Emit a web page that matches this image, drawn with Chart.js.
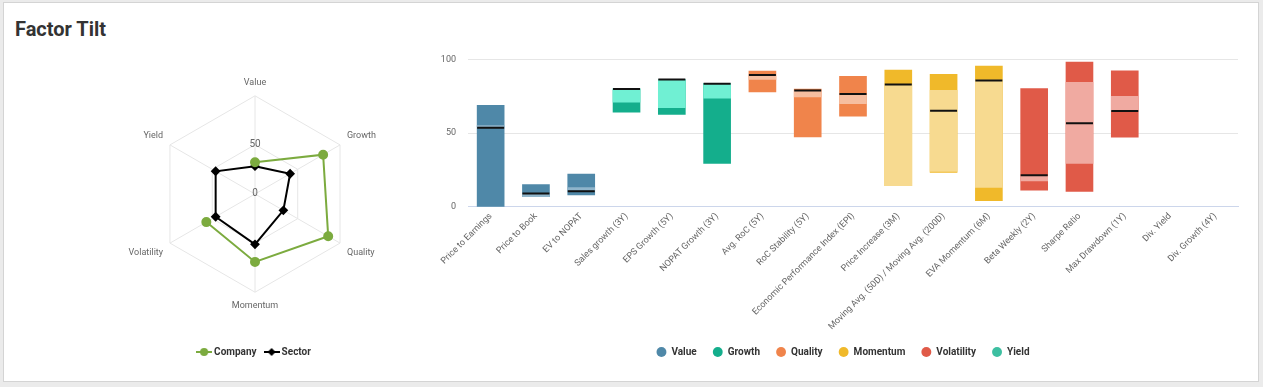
<!DOCTYPE html>
<html>
<head>
<meta charset="utf-8">
<script src="https://cdn.jsdelivr.net/npm/chart.js"></script>
<style>
  body { margin: 0; background: #ebebeb; font-family: Roboto, sans-serif; }
  .card { position: absolute; left: 3px; top: 2px; width: 1254px; height: 378px; background: #fff; border: 1px solid #d4d4d4; }
  .title { position: absolute; left: 15px; top: 17px; font: bold 20px Roboto, sans-serif; color: #333; }
  #radarBox { position: absolute; left: 10px; top: 78px; width: 490px; height: 289px; }
  #barBox { position: absolute; left: 420px; top: 51px; width: 830px; height: 321px; }
</style>
</head>
<body>
<div class="card"></div>
<div class="title">Factor Tilt</div>
<div id="radarBox"><canvas id="radarChart"></canvas></div>
<div id="barBox"><canvas id="tiltChart"></canvas></div>
<script>
    // radar: factor scores
    const radarAxes = ['Value', 'Growth', 'Quality', 'Momentum', 'Volatility', 'Yield'];
    const companyScores = [32, 80, 86, 69, 57, null];
    const sectorScores = [28, 41, 33, 51, 46, 46];
    const radarTicks = [0, 50, 100];

    // bars: one per metric
    const metricNames = ['Price to Earnings', 'Price to Book', 'EV to NOPAT', 'Sales growth (3Y)', 'EPS Growth (5Y)',
        'NOPAT Growth (3Y)', 'Avg. RoC (5Y)', 'RoC Stability (5Y)', 'Economic Performance Index (EPI)',
        'Price Increase (3M)', 'Moving Avg. (50D) / Moving Avg. (200D)', 'EVA Momentum (6M)', 'Beta Weekly (2Y)',
        'Sharpe Ratio', 'Max Drawdown (1Y)', 'Div. Yield', 'Div. Growth (4Y)'];
    const metricFactor = ['Value', 'Value', 'Value', 'Growth', 'Growth', 'Growth', 'Quality', 'Quality', 'Quality',
        'Momentum', 'Momentum', 'Momentum', 'Volatility', 'Volatility', 'Volatility', 'Yield', 'Yield'];
    const rangeLow  = [0, 7, 8.2, 64.3, 62.7, 29.5, 78, 47.5, 61.6, 14.5, 23.4, 4.3, 11.4, 10.5, 47.3, null, null];
    const rangeHigh = [68.8, 15.2, 22.3, 80, 86.3, 83.6, 92, 79.8, 88.6, 92.7, 89.8, 95.4, 80.2, 98.2, 92.2, null, null];
    const bandLow   = [54.2, 7, 11.4, 71, 67.3, 73.8, 86.5, 74.5, 70, 14.5, 24.1, 13.2, 17.7, 29.5, 65, null, null];
    const bandHigh  = [55.2, 8.5, 13.2, 80, 86.3, 83.6, 88.8, 79, 75.7, 83, 79.1, 85.9, 20.7, 84.5, 75, null, null];
    const sectorLevel = [53.7, 9.1, 10.7, 80, 86.3, 83.5, 89.4, 79, 76.6, 83, 65.2, 85.7, 21.4, 56.8, 65, null, null];

    const factors = ['Value', 'Growth', 'Quality', 'Momentum', 'Volatility', 'Yield'];
    const factorDark = ['#4f88a8', '#14ae8c', '#f0844b', '#f0b92a', '#e05a48', '#3dbfa1'];
    const factorLight = ['#8fb5cb', '#70f0d3', '#f6bea0', '#f7da90', '#f0aaa1', '#8fe3cf'];

    Chart.defaults.font.family = 'Roboto';
    Chart.defaults.color = '#666';

    function legendMarker(color, shape) {
        const c = document.createElement('canvas');
        c.width = 16; c.height = 10;
        const g = c.getContext('2d');
        g.strokeStyle = color; g.lineWidth = 2;
        g.beginPath(); g.moveTo(0, 5); g.lineTo(16, 5); g.stroke();
        g.fillStyle = color;
        g.beginPath();
        if (shape === 'circle') g.arc(8, 5, 4, 0, Math.PI * 2);
        else { g.moveTo(8, 1); g.lineTo(12, 5); g.lineTo(8, 9); g.lineTo(4, 5); g.closePath(); }
        g.fill();
        return c;
    }
    const radarMarkers = [legendMarker('#7cab3f', 'circle'), legendMarker('#000', 'diamond')];

    new Chart(document.getElementById('radarChart'), {
        type: 'radar',
        data: {
            labels: radarAxes,
            datasets: [{
                label: 'Company',
                data: companyScores,
                borderColor: '#7cab3f',
                backgroundColor: '#7cab3f',
                borderWidth: 2,
                pointRadius: 4,
                fill: false,
                spanGaps: false
            }, {
                label: 'Sector',
                data: sectorScores,
                borderColor: '#000',
                backgroundColor: '#000',
                borderWidth: 2,
                pointStyle: 'rectRot',
                pointRadius: 3.5,
                fill: false,
                spanGaps: false
            }]
        },
        options: {
            responsive: true,
            maintainAspectRatio: false,
            animation: false,
            scales: {
                r: {
                    min: -0.5,
                    max: 100,
                    // keep 0 as a labelled tick (the lowest tick is never labelled)
                    afterBuildTicks: s => { s.ticks = [{ value: -0.5 }, ...radarTicks.map(v => ({ value: v }))]; },
                    grid: { color: '#e6e6e6' },
                    angleLines: { color: '#e6e6e6' },
                    pointLabels: { font: { size: 9 }, color: '#666', padding: 1 },
                    ticks: {
                        display: true,
                        z: 1,
                        showLabelBackdrop: false,
                        font: { size: 10 },
                        color: '#666',
                        callback: v => (v === 0 || v === 50) ? String(v) : ''
                    }
                }
            },
            plugins: {
                tooltip: { enabled: false },
                legend: {
                    position: 'bottom',
                    title: { display: true, text: '', font: { size: 10 }, padding: { top: 0, bottom: 13 } },
                    labels: {
                        usePointStyle: true,
                        pointStyleWidth: 10,
                        padding: 10,
                        color: '#333',
                        font: { size: 10, weight: 'bold' },
                        generateLabels(chart) {
                            const items = Chart.defaults.plugins.legend.labels.generateLabels(chart);
                            items.forEach((it, i) => { it.pointStyle = radarMarkers[i]; });
                            return items;
                        }
                    }
                }
            }
        }
    });

    const rangeSets = factors.map((f, k) => ({
        label: f,
        data: metricNames.map((_, i) => (metricFactor[i] === f && rangeLow[i] != null) ? [rangeLow[i], rangeHigh[i]] : null),
        backgroundColor: factorDark[k],
        grouped: false,
        barThickness: 27,
        order: 3
    }));
    const bandSet = {
        label: 'band',
        data: metricNames.map((_, i) => bandLow[i] != null ? [bandLow[i], bandHigh[i]] : null),
        backgroundColor: metricFactor.map(f => factorLight[factors.indexOf(f)]),
        grouped: false,
        barThickness: 27,
        order: 2
    };
    const sectorSet = {
        label: 'sector',
        type: 'line',
        data: sectorLevel,
        showLine: false,
        pointStyle: 'line',
        pointRadius: 13.5,
        pointHoverRadius: 13.5,
        pointBorderWidth: 2,
        borderColor: '#111',
        order: 1
    };

    // nudge the bar legend to sit under the plot like the original
    const legendShift = {
        id: 'legendShift',
        afterLayout(chart) {
            const lg = chart.legend;
            lg.left += 14; lg.right += 14;
            lg.top -= 5; lg.bottom -= 5;
        }
    };

    new Chart(document.getElementById('tiltChart'), {
        type: 'bar',
        data: { labels: metricNames, datasets: [...rangeSets, bandSet, sectorSet] },
        options: {
            responsive: true,
            maintainAspectRatio: false,
            animation: false,
            layout: { autoPadding: false, padding: { right: 12 } },
            scales: {
                x: {
                    grid: { display: false, drawTicks: false },
                    border: { color: '#ccd6eb' },
                    ticks: { autoSkip: false, minRotation: 45, maxRotation: 45, padding: 4, font: { size: 9 }, color: '#666' }
                },
                y: {
                    min: 0,
                    max: 100,
                    border: { display: false },
                    grid: {
                        tickLength: 9,
                        tickColor: 'transparent',
                        color: c => c.tick.value === 0 ? '#ccd6eb' : '#e6e6e6'
                    },
                    ticks: { stepSize: 50, padding: 3, font: { size: 9 }, color: '#666' },
                    afterFit: s => { s.width = 48; }
                }
            },
            plugins: {
                tooltip: { enabled: false },
                legend: {
                    position: 'bottom',
                    labels: {
                        usePointStyle: true,
                        pointStyle: 'circle',
                        boxHeight: 7,
                        padding: 16,
                        color: '#333',
                        font: { size: 10, weight: 'bold' },
                        filter: item => item.datasetIndex < 6
                    }
                }
            }
        },
        plugins: [legendShift]
    });
</script>
</body>
</html>
